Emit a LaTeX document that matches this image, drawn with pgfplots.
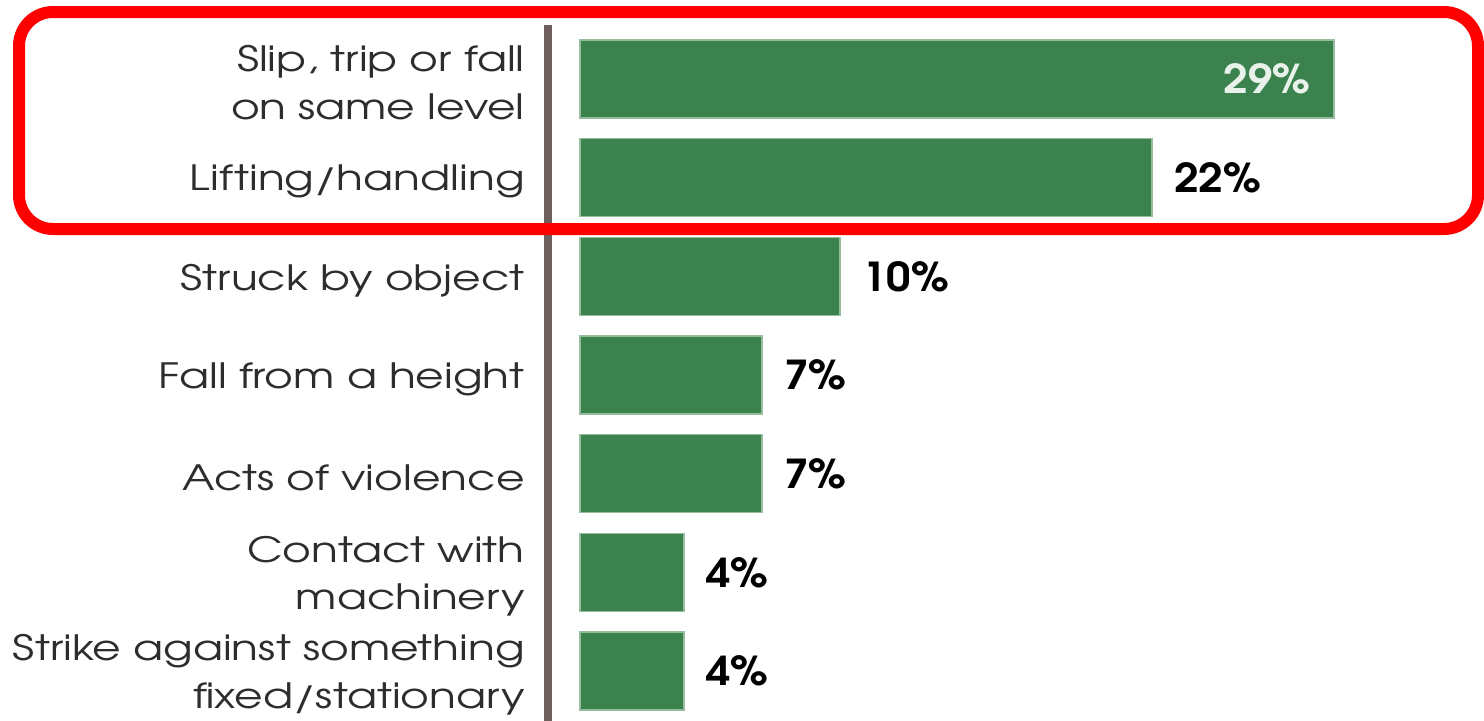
\documentclass[border=0pt]{standalone}
\usepackage{fontspec}
\setmainfont[FakeStretch=1.26]{TeX Gyre Adventor}
\newfontfamily\valfont[FakeStretch=1.1]{TeX Gyre Adventor}
\usepackage{pgfplots}
\pgfplotsset{compat=1.18}
\definecolor{bargreen}{RGB}{60,130,78}
\definecolor{baredge}{RGB}{150,190,158}
\definecolor{axisbrown}{RGB}{110,94,94}
\definecolor{labelgray}{RGB}{45,45,45}
\definecolor{inlabel}{RGB}{232,242,234}
\begin{document}
\begin{tikzpicture}
\path[use as bounding box] (0bp,0bp) rectangle (742bp,-360.5bp);
\begin{axis}[
  at={(274bp,-360.5bp)}, anchor=south west,
  scale only axis, width=466bp, height=348bp,
  xmin=-1.2308, xmax=34.615,
  ymin=-0.547, ymax=6.507, y dir=reverse,
  axis x line=none,
  axis y line=left,
  y axis line style={draw=axisbrown, line width=4bp, -},
  ytick={0,1,2,3,4,5,6},
  yticklabels={{Slip, trip or fall\\on same level},{Lifting/handling},{Struck by object},{Fall from a height},{Acts of violence},{Contact with\\machinery},{Strike against something\\fixed/stationary}},
  yticklabel style={font=\fontsize{17.5}{24}\selectfont, text=labelgray, align=right, anchor=east, inner sep=0pt, xshift=-11.5bp, yshift=-2bp},
  major tick length=0pt,
  /pgf/number format/assume math mode=true,
  clip=false,
]
\addplot[xbar, bar width=39bp, bar shift=0pt, fill=bargreen, draw=baredge, line width=0.6bp]
  coordinates {(29,0) (22,1) (10,2) (7,3) (7,4) (4,5) (4,6)};
\addplot[xbar, bar width=39bp, bar shift=0pt, draw=none, fill=none,
  nodes near coords={\pgfmathprintnumber{\pgfplotspointmeta}\%},
  point meta=x,
  every node near coord/.append style={font=\valfont\fontsize{20}{22}\selectfont\bfseries, text=black, anchor=west, inner sep=0pt, xshift=11bp}]
  coordinates {(22,1) (10,2) (7,3) (7,4) (4,5) (4,6)};
\addplot[xbar, bar width=39bp, bar shift=0pt, draw=none, fill=none,
  nodes near coords={\pgfmathprintnumber{\pgfplotspointmeta}\%},
  point meta=x,
  every node near coord/.append style={font=\valfont\fontsize{20}{22}\selectfont\bfseries, text=inlabel, anchor=east, inner sep=0pt, xshift=-11.5bp}]
  coordinates {(29,0)};
\end{axis}
\draw[red, line width=6bp, rounded corners=17bp] (9.5bp,-6bp) rectangle (739bp,-114.5bp);
\end{tikzpicture}
\end{document}
